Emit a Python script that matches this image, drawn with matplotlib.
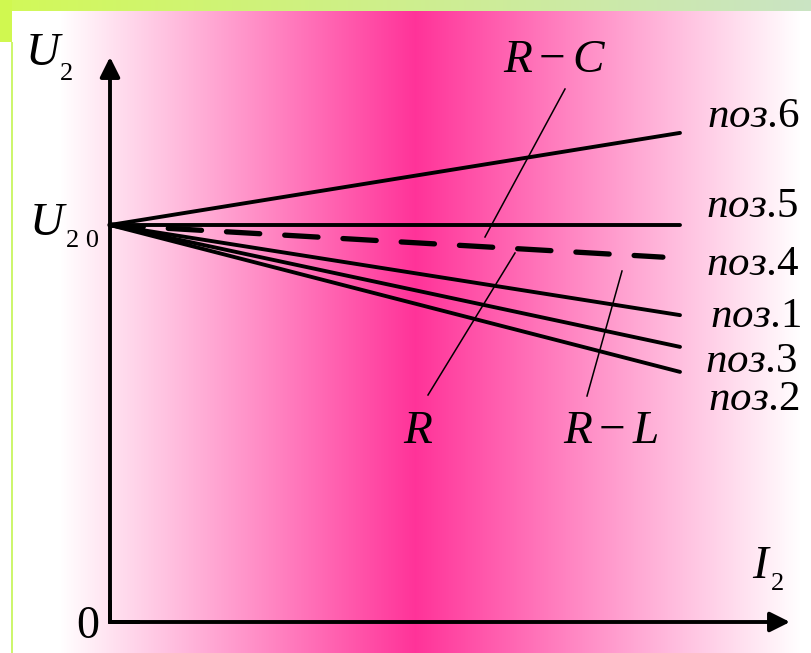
import matplotlib.pyplot as plt
import numpy as np

plt.rcParams['font.family'] = ['Liberation Serif', 'DejaVu Serif']
plt.rcParams['mathtext.fontset'] = 'custom'
plt.rcParams['mathtext.rm'] = 'Liberation Serif'
plt.rcParams['mathtext.it'] = 'Liberation Serif:italic'
plt.rcParams['lines.scale_dashes'] = False

# external characteristics U2 = f(I2), relative units (U20 = 1)
i2_end = [1.0, 1.0, 0.970, 1.0, 1.0, 1.0]
u2_end = [1.232, 1.0, 0.919, 0.773, 0.693, 0.630]
u20 = 1.0
positions = ['6', '5', '4', '1', '3', '2']
dashed = [False, False, True, False, False, False]

# picture layout: origin and scale in pixels
X0, Y0 = 110, 622
SX, SY = 570, 397
W, H = 812, 653


def px(x, y):
    return (x - X0) / SX, (Y0 - y) / SY


fig = plt.figure(figsize=(W / 100, H / 100), dpi=100)

# background: pink gradient, green frame bits
cols = np.arange(W)
t = np.where(cols < 415, (cols - 60) / 355, (800 - cols) / 385)
t = np.clip(t, 0, 1)
pink = np.array([255, 51, 153]) / 255
row = 1 - t[:, None] * (1 - pink)[None, :]
img = np.ones((H, W, 3))
img[11:, 13:] = row[13:]
g = np.linspace(0, 1, W)[:, None]
top = (1 - g) * np.array([210, 249, 88]) + g * np.array([202, 228, 196])
img[:11, :] = top / 255
img[:42, :12] = np.array([208, 248, 80]) / 255
img[42:, 11:13] = np.array([205, 246, 110]) / 255
img[42:, :11] = 1.0
bg = fig.add_axes([0, 0, 1, 1], zorder=-1)
bg.imshow(img, aspect='auto', interpolation='nearest')
bg.axis('off')

ax = fig.add_axes([0, 0, 1, 1])
ax.patch.set_alpha(0)
ax.set_xlim(px(0, 0)[0], px(W, 0)[0])
ax.set_ylim(px(0, H)[1], px(0, 0)[1])
ax.axis('off')

# axes with arrows
arr = dict(arrowstyle='-|>', lw=2.8, color='black', mutation_scale=30,
           shrinkA=0, shrinkB=0)
ax.annotate('', xy=px(110, 57), xytext=(0, 0), arrowprops=arr)
ax.annotate('', xy=px(790, 622), xytext=(0, 0), arrowprops=arr)
ax.plot([0, 0, 0.05], [0.05, 0, 0], color='black', lw=2.8,
        solid_joinstyle='miter')

# characteristics
for xe, ye, p, d in zip(i2_end, u2_end, positions, dashed):
    if d:
        ax.plot([0, xe], [u20, ye], color='black', lw=3.8,
                linestyle=(0, (24, 18)), dash_capstyle='round')
    else:
        ax.plot([0, xe], [u20, ye], color='black', lw=2.8,
                solid_capstyle='round')

# labels of positions
lab_xy = {'6': (707, 127), '5': (706, 217), '4': (706, 275),
          '1': (710, 327), '3': (705, 372), '2': (708, 410)}
for p in positions:
    ax.text(*px(*lab_xy[p]), r'$\mathit{поз}$.' + p, fontsize=31,
            va='baseline', ha='left')

# leader lines
for (xa, ya), (xb, yb) in [((565, 89), (485, 237)),
                           ((515, 253), (428, 395)),
                           ((622, 271), (587, 396))]:
    a, b = px(xa, ya), px(xb, yb)
    ax.plot([a[0], b[0]], [a[1], b[1]], color='black', lw=1.1)

ax.text(*px(503, 72), r'$R-C$', fontsize=34, va='baseline')
ax.text(*px(403, 443), r'$R$', fontsize=34, va='baseline')
ax.text(*px(563, 443), r'$R-L$', fontsize=34, va='baseline')

# axis captions
ax.text(*px(26, 65), 'U', style='italic', fontsize=34, va='baseline')
ax.text(*px(60, 80), '2', fontsize=19, va='baseline')
ax.text(*px(30, 235), 'U', style='italic', fontsize=34, va='baseline')
ax.text(*px(66, 247), '2 0', fontsize=19, va='baseline')
ax.text(*px(752, 578), 'I', style='italic', fontsize=34, va='baseline')
ax.text(*px(771, 590), '2', fontsize=19, va='baseline')
ax.text(*px(76, 638), '0', fontsize=33, va='baseline')

fig.savefig('out.png', dpi=100)
